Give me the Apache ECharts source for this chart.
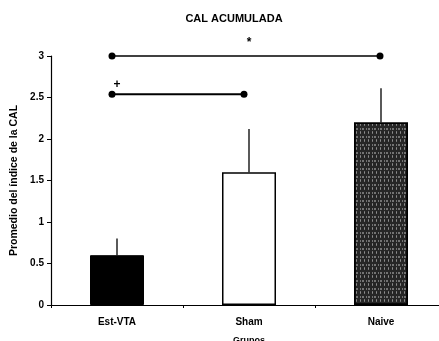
<!DOCTYPE html>
<html>
<head>
<meta charset="utf-8">
<script src="https://cdn.jsdelivr.net/npm/echarts@6/dist/echarts.min.js"></script>
<style>html,body{margin:0;padding:0;background:#fff}#c{width:439px;height:341px}</style>
</head>
<body>
<div id="c"></div>
<script>
var categories = ['Est-VTA', 'Sham', 'Naive'];
var means = [0.6, 1.6, 2.2];
var errUpper = [0.8, 2.12, 2.61];
var yTicks = [0, 0.5, 1, 1.5, 2, 2.5, 3];
// significance brackets: [fromCategoryIndex, toCategoryIndex, yValue]
var brackets = [[0, 2, 3.0], [0, 1, 2.54]];
// stars: [xCategoryPosition, yValue, label]
var stars = [[0.93, 3.16, '*'], [0.40, 2.65, '+']];

var chart = echarts.init(document.getElementById('c'));
var font = 'Liberation Sans, Arial, sans-serif';

chart.setOption({
  animation: false,
  backgroundColor: '#fff',
  title: {
    text: 'CAL ACUMULADA', left: 229, top: 8, textAlign: 'center',
    textStyle: { fontFamily: font, fontSize: 11, fontWeight: 'bold', color: '#000' }
  },
  grid: { left: 51, width: 396, top: 56, bottom: 36, outerBoundsMode: 'none', containLabel: false },
  xAxis: {
    type: 'category', data: categories,
    name: 'Grupos', nameLocation: 'middle', nameGap: 31,
    nameTextStyle: { fontFamily: font, fontSize: 9, fontWeight: 'bold', color: '#000' },
    axisLine: { lineStyle: { color: '#000', width: 1.2 } },
    axisTick: { show: true, alignWithLabel: false, length: 3, inside: false, lineStyle: { color: '#000' } },
    axisLabel: { fontFamily: font, fontSize: 10, fontWeight: 'bold', color: '#000', margin: 12 }
  },
  yAxis: {
    type: 'value', min: 0, max: 3, interval: 0.5,
    name: 'Promedio del índice de la CAL', nameLocation: 'middle', nameGap: 30,
    nameTextStyle: { fontFamily: font, fontSize: 10.5, fontWeight: 'bold', color: '#000' },
    axisLine: { show: true, lineStyle: { color: '#000', width: 1.2 } },
    axisTick: { show: true, length: 4, lineStyle: { color: '#000' } },
    splitLine: { show: false },
    axisLabel: {
      fontFamily: font, fontSize: 10, fontWeight: 'bold', color: '#000', margin: 7,
      formatter: function (v) { return yTicks.indexOf(v) >= 0 ? String(v) : ''; }
    }
  },
  series: [
    {
      type: 'bar', barWidth: 54,
      data: means.map(function (v, i) {
        var s;
        if (i === 0) s = { color: '#000', borderColor: '#000', borderWidth: 1 };
        else if (i === 1) s = { color: '#fff', borderColor: '#000', borderWidth: 1.5 };
        else s = {
          color: '#262626', borderColor: '#000', borderWidth: 1.5,
          decal: { symbol: 'rect', symbolSize: 0.8, color: 'rgba(200,200,200,0.8)',
                   dashArrayX: [[1, 1, 2, 2], [1, 3]], dashArrayY: [2, 1, 3, 2], rotation: 0 }
        };
        return { value: v, itemStyle: s };
      })
    },
    {
      type: 'custom',
      data: errUpper.map(function (e, i) { return [i, means[i], e]; }),
      renderItem: function (params, api) {
        var p0 = api.coord([api.value(0), api.value(1)]);
        var p1 = api.coord([api.value(0), api.value(2)]);
        return { type: 'line', shape: { x1: p0[0], y1: p0[1], x2: p1[0], y2: p1[1] },
                 style: { stroke: '#000', lineWidth: 1.3 } };
      },
      z: 5
    },
    {
      type: 'custom',
      clip: false,
      data: brackets,
      renderItem: function (params, api) {
        var a = api.coord([api.value(0), api.value(2)]);
        var b = api.coord([api.value(1), api.value(2)]);
        var x1 = a[0] - 5, x2 = b[0] - (api.value(1) === 1 ? 5 : 1);
        var lw = params.dataIndex === 0 ? 1.4 : 2;
        return { type: 'group', children: [
          { type: 'line', shape: { x1: x1, y1: a[1], x2: x2, y2: b[1] }, style: { stroke: '#000', lineWidth: lw } },
          { type: 'circle', shape: { cx: x1, cy: a[1], r: 3.5 }, style: { fill: '#000' } },
          { type: 'circle', shape: { cx: x2, cy: b[1], r: 3.5 }, style: { fill: '#000' } }
        ] };
      },
      z: 6
    },
    {
      type: 'custom',
      clip: false,
      data: stars,
      renderItem: function (params, api) {
        var p = api.coord([api.value(0), api.value(1)]);
        return { type: 'text', x: p[0], y: p[1],
                 style: { text: stars[params.dataIndex][2], fill: '#000', fontFamily: font,
                          fontSize: 12, fontWeight: 'bold', align: 'center', verticalAlign: 'middle' } };
      },
      z: 6
    }
  ]
});
</script>
</body>
</html>
